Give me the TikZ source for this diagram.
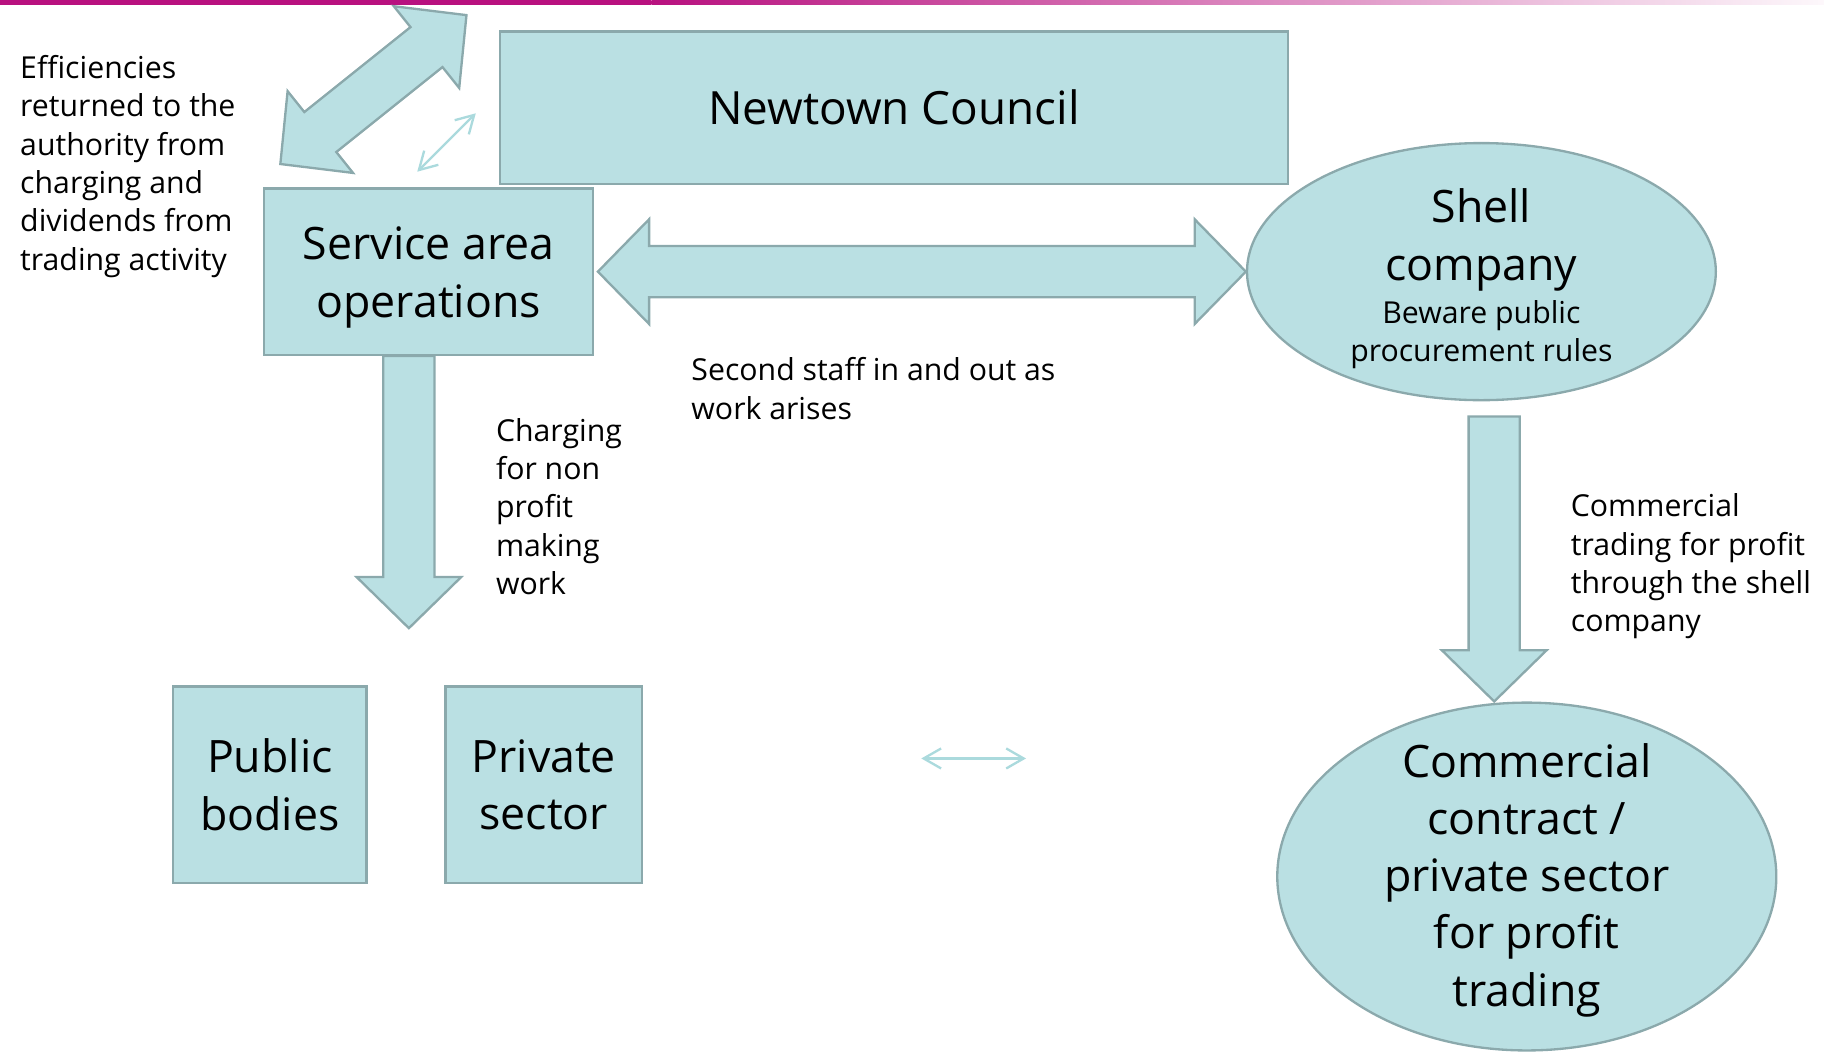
\documentclass[tikz,border=0pt]{standalone}
\usepackage{fontspec}
\setmainfont{Open Sans}
\usetikzlibrary{shapes.geometric,arrows.meta,calc}

\definecolor{tealfill}{HTML}{BAE0E3}
\definecolor{tealline}{HTML}{8BA9AC}
\definecolor{thinteal}{HTML}{ABDADD}
\definecolor{barmag}{RGB}{184,17,127}

\newcommand\bigtxt{\fontsize{19.2}{24.6}\selectfont}
\newcommand\smalltxt{\fontsize{13}{16.5}\selectfont}

\tikzset{
  tealbox/.style={draw=tealline, fill=tealfill, line width=1pt, inner sep=0pt, align=center, font=\bigtxt},
  tealoval/.style={draw=tealline, fill=tealfill, line width=1pt, ellipse, inner sep=0pt},
  boxtext/.style={inner sep=0pt, align=center, font=\bigtxt},
  note/.style={anchor=north west, inner sep=0pt, align=left, font=\smalltxt},
  blockarrow/.style={draw=tealline, fill=tealfill, line width=1pt, line join=miter},
  thinarrow/.style={draw=thinteal, line width=1pt,
    {Straight Barb[length=7.5pt,width=8.6pt]}-{Straight Barb[length=7.5pt,width=8.6pt]}}
}

\newcommand\dblblock[2]{%
  \coordinate (hd1) at ($(#1)!22pt!(#2)$);
  \coordinate (hd2) at ($(#2)!22pt!(#1)$);
  \draw[blockarrow] (#1) -- ($(hd1)!22.5pt!90:(#2)$) -- ($(hd1)!11pt!90:(#2)$)
    -- ($(hd2)!11pt!-90:(#1)$) -- ($(hd2)!22.5pt!-90:(#1)$) -- (#2)
    -- ($(hd2)!22.5pt!90:(#1)$) -- ($(hd2)!11pt!90:(#1)$)
    -- ($(hd1)!11pt!-90:(#2)$) -- ($(hd1)!22.5pt!-90:(#2)$) -- cycle;}
\newcommand\oneblock[2]{%
  \coordinate (hd1) at ($(#2)!22pt!(#1)$);
  \draw[blockarrow] ($(#1)!11pt!90:(#2)$) -- ($(hd1)!11pt!-90:(#1)$)
    -- ($(hd1)!22.5pt!-90:(#1)$) -- (#2) -- ($(hd1)!22.5pt!90:(#1)$)
    -- ($(hd1)!11pt!90:(#1)$) -- ($(#1)!11pt!-90:(#2)$) -- cycle;}

\begin{document}
\begin{tikzpicture}[x=0.5pt, y=-0.5pt]
\useasboundingbox (0,0) rectangle (1568,905);

\fill[barmag] (0,0) rectangle (560,4);
\shade[left color=barmag, middle color=barmag!25, right color=barmag!3] (560,0) rectangle (1568,4);

\node[tealbox, minimum width=338.5pt, minimum height=65.5pt, font=\fontsize{19.7}{24.6}\selectfont] (council) at (768.5,92.5) {Newtown Council};
\node[tealbox, minimum width=141.5pt, minimum height=71.5pt] (svc) at (368.5,233.5) {};
\node[boxtext] (svctxt) at ($(svc)+(0,5)$) {Service area\\operations};
\node[tealbox, minimum width=83pt, minimum height=84.5pt] (public) at (232,674.5) {Public\\bodies};
\node[tealbox, minimum width=84.5pt, minimum height=84.5pt] (private) at (467.5,674.5) {Private\\sector};

\node[tealoval, minimum width=201.5pt, minimum height=110.5pt] (shell) at (1273.5,233.5) {};
\node[boxtext, anchor=north] (shelltitle) at (1273.5,162) {Shell\\company};
\node[boxtext, anchor=north, font=\smalltxt] (shellnote) at (1273.5,258) {Beware public\\procurement rules};

\node[tealoval, minimum width=214.5pt, minimum height=149.5pt] (commercial) at (1312.5,753.5) {};
\node[boxtext] (commercialtxt) at ($(commercial)+(0,3)$)
  {Commercial\\contract /\\private sector\\for profit\\trading};

\node[note] (effnote) at (17,47) {Efficiencies\\returned to the\\authority from\\charging and\\dividends from\\trading activity};
\node[note] (chargenote) at (426,359) {Charging\\for non\\profit\\making\\work};
\node[note] (staffnote) at (594,307) {Second staff in and out as\\work arises};
\node[note] (tradenote) at (1350,424) {Commercial\\trading for profit\\through the shell\\company};

\coordinate (svcport) at ($(svc.east)+(3,0)$);
\dblblock{svcport}{shell.west}

\coordinate (retlow) at (241,141);
\coordinate (rethigh) at (401,13);
\dblblock{retlow}{rethigh}

\coordinate (chargetop) at ($(svc.south)+(-17,0)$);
\coordinate (chargetip) at ($(svc.south)+(-17,234)$);
\oneblock{chargetop}{chargetip}

\coordinate (tradetop) at ($(shell.south)+(11,13)$);
\coordinate (tradetip) at ($(commercial.north)+(-28,0)$);
\oneblock{tradetop}{tradetip}

\coordinate (linkA) at (358.7,147.6);
\coordinate (linkB) at (409,97.4);
\draw[thinarrow] (linkA) -- (linkB);
\coordinate (peerA) at (792,652);
\coordinate (peerB) at (882,652);
\draw[thinarrow] (peerA) -- (peerB);
\end{tikzpicture}
\end{document}
